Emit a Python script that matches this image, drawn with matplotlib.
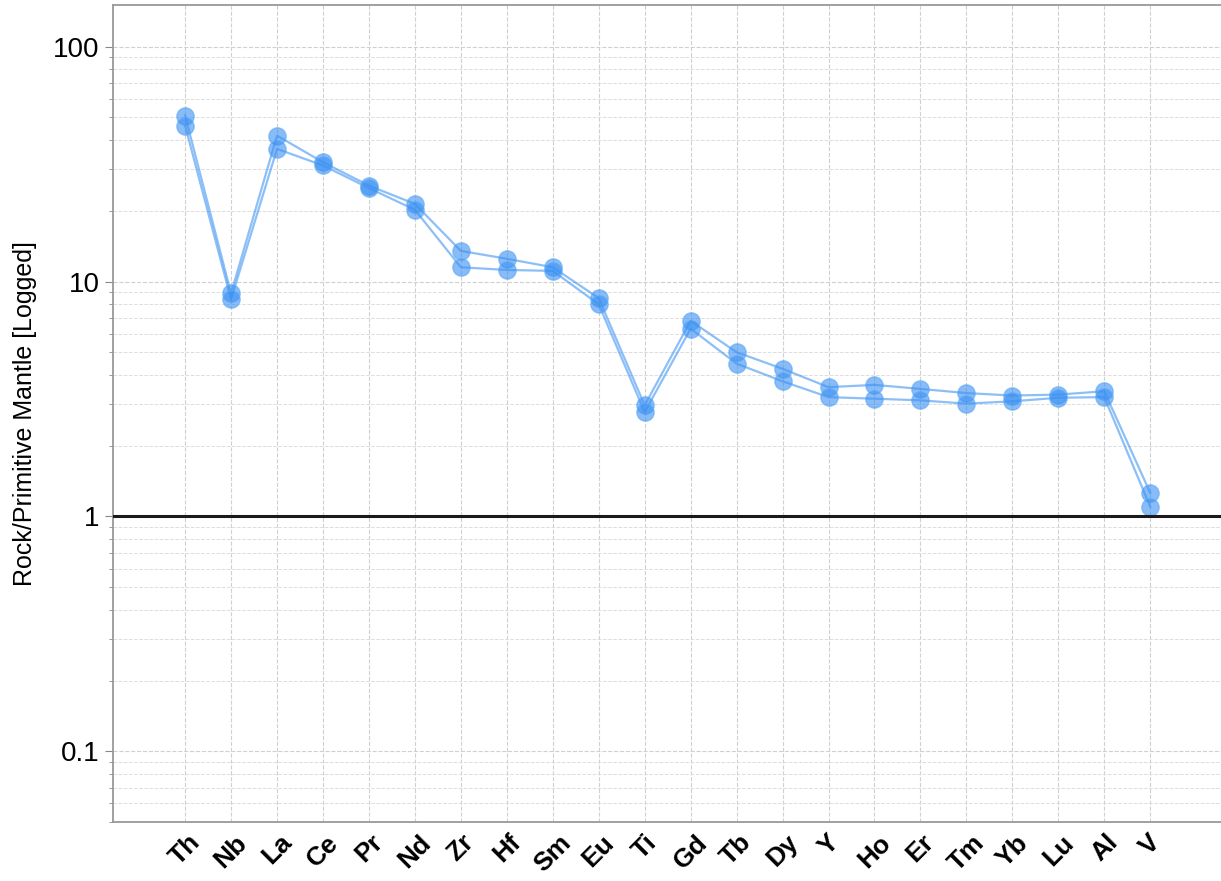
import numpy as np
import matplotlib.pyplot as plt
from matplotlib.ticker import LogLocator, NullFormatter, FixedLocator, FixedFormatter

plt.rcParams['font.family'] = ['Liberation Sans', 'DejaVu Sans']

elements = ['Th', 'Nb', 'La', 'Ce', 'Pr', 'Nd', 'Zr', 'Hf', 'Sm', 'Eu', 'Ti',
            'Gd', 'Tb', 'Dy', 'Y', 'Ho', 'Er', 'Tm', 'Yb', 'Lu', 'Al', 'V']

# normalised to primitive mantle
sample_a = [50.9, 8.9, 41.8, 32.2, 25.6, 21.4, 13.5, 12.5, 11.5, 8.5, 2.97,
            6.8, 5.0, 4.25, 3.55, 3.63, 3.49, 3.35, 3.27, 3.30, 3.41, 1.26]
sample_b = [46.1, 8.4, 36.7, 31.2, 25.0, 20.2, 11.5, 11.2, 11.1, 8.0, 2.78,
            6.3, 4.47, 3.76, 3.22, 3.17, 3.12, 3.02, 3.09, 3.20, 3.22, 1.10]

y_ticks = [0.1, 1, 10, 100]
y_ticklabels = ['0.1', '1', '10', '100']

fig = plt.figure(figsize=(12.21, 8.81), dpi=100)
ax = fig.add_axes([0.0925, 0.067, 0.9075, 0.927])

x = np.arange(len(elements))
for s in (sample_a, sample_b):
    ax.plot(x, s, color='#3f95f2', alpha=0.6, linewidth=1.6, zorder=3)
    ax.plot(x, s, linestyle='none', marker='o', markersize=12.5,
            markerfacecolor='#3a90f2', markeredgecolor='#5aa8f7',
            alpha=0.6, zorder=4)

ax.axhline(1, color='#1a1a1a', linewidth=2.2, zorder=5)

ax.set_yscale('log')
ax.set_ylim(0.05, 150)
ax.set_xlim(-1.57, 22.54)

ax.yaxis.set_major_locator(FixedLocator(y_ticks))
ax.yaxis.set_major_formatter(FixedFormatter(y_ticklabels))
ax.yaxis.set_minor_locator(LogLocator(base=10, subs=np.arange(2, 10)))
ax.yaxis.set_minor_formatter(NullFormatter())
ax.tick_params(axis='y', which='major', labelsize=20, length=6, color='#888888')
ax.tick_params(axis='y', which='minor', length=3, color='#888888')

ax.set_xticks(x)
ax.set_xticklabels(elements, rotation=45, ha='center', fontsize=19,
                   fontweight='bold')
ax.tick_params(axis='x', length=0, pad=6)

ax.grid(True, which='major', axis='both', color='#d0d0d0', linestyle='--',
        linewidth=0.8)
ax.grid(True, which='minor', axis='y', color='#dddddd', linestyle='--',
        linewidth=0.7)
ax.set_axisbelow(True)

for side in ('left', 'top', 'bottom'):
    ax.spines[side].set_color('#999999')
    ax.spines[side].set_linewidth(1.3)
ax.spines['right'].set_visible(False)

ax.set_ylabel('Rock/Primitive Mantle [Logged]', fontsize=18, labelpad=12)

fig.savefig('out.png', dpi=100)
